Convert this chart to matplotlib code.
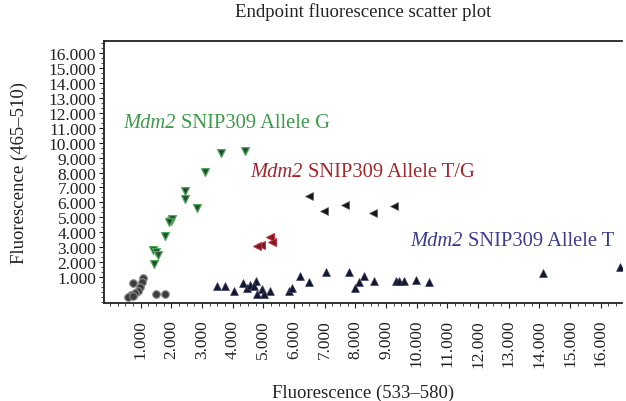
import matplotlib
matplotlib.use("Agg")
import matplotlib.pyplot as plt
from matplotlib.ticker import MultipleLocator, FuncFormatter
from matplotlib.transforms import offset_copy

plt.rcParams['font.family'] = ['Liberation Serif', 'DejaVu Serif']

# no template / background cluster near origin
ntc_x = [760, 1090, 1030, 980, 920, 820, 675, 600, 760, 1500, 1800]
ntc_y = [600, 920, 650, 310, 90, -70, -200, -350, -250, -130, -130]

# allele G (homozygous)
g_x = [3630, 4390, 3090, 2450, 2450, 2850, 1980, 2030, 1920, 1790, 1415, 1490, 1570, 1440]
g_y = [9300, 9420, 8020, 6790, 6230, 5600, 4780, 4890, 4670, 3770, 2830, 2660, 2480, 1880]

# allele T/G (heterozygous)
tg_x = [6500, 6980, 7660, 8560, 9270]
tg_y = [6410, 5450, 5850, 5290, 5780]
tg_red_x = [4930, 4800, 5220, 5270]
tg_red_y = [3170, 3100, 3660, 3330]

# allele T (homozygous)
t_x = [3500, 3740, 4040, 4350, 4470, 4570, 4770, 4710, 4790, 4950, 5020, 5210,
       5850, 5930, 6190, 6500, 7040, 7790, 8280, 8120, 7980, 8600,
       9310, 9430, 9590, 9980, 10400, 14110, 16630]
t_y = [420, 420, 90, 600, 250, 470, 760, 420, -130, 200, -130, 90,
       90, 250, 1090, 650, 1360, 1360, 1090, 650, 250, 760,
       760, 760, 760, 800, 660, 1270, 1650]

ticks = list(range(1000, 17000, 1000))

# cluster labels: (x, y, text, colour)
labels = [(420, 11350, 'SNIP309 Allele G', '#3d9a4a'),
          (4580, 8050, 'SNIP309 Allele T/G', '#a3262b'),
          (9780, 3450, 'SNIP309 Allele T', '#3b3b8f')]

fig = plt.figure(figsize=(6.26, 4.02), dpi=100)
ax = fig.add_axes([104 / 626, 1 - 304 / 402, 518 / 626, 262 / 402])

ax.scatter(ntc_x, ntc_y, s=30, marker='o', facecolor='#3c3c3c', edgecolor='#8a8a8a', linewidth=0.8, zorder=3)
ax.scatter(g_x, g_y, s=32, marker='v', facecolor='#24492e', edgecolor='#4fa85c', linewidth=0.9, zorder=3)
ax.scatter(tg_x, tg_y, s=32, marker='<', facecolor='#161616', edgecolor='#555555', linewidth=0.5, zorder=3)
ax.scatter(tg_red_x, tg_red_y, s=32, marker='<', facecolor='#7a1a22', edgecolor='#c0303a', linewidth=0.8, zorder=3)
ax.scatter(t_x, t_y, s=32, marker='^', facecolor='#14172a', edgecolor='#3a3f6a', linewidth=0.5, zorder=3)

ax.set_xlim(-196, 16694)
ax.set_ylim(-737, 16812)
ax.set_xticks(ticks)
ax.set_yticks(ticks)
ax.xaxis.set_minor_locator(MultipleLocator(250))
ax.yaxis.set_minor_locator(MultipleLocator(333.33))
fmt = FuncFormatter(lambda v, p: '{:,.0f}'.format(v).replace(',', '.'))
ax.xaxis.set_major_formatter(fmt)
ax.yaxis.set_major_formatter(fmt)
ax.tick_params(axis='both', which='major', direction='out', length=3.5, width=0.8,
               labelsize=12.5, colors='#222222', pad=2)
ax.tick_params(axis='both', which='minor', direction='out', length=2, width=0.6, color='#222222')
ax.tick_params(axis='x', labelrotation=90, pad=8)
for s in ['left', 'bottom', 'top']:
    ax.spines[s].set_color('#222222')
    ax.spines[s].set_linewidth(1.3)
ax.spines['right'].set_visible(False)

ax.set_title('Endpoint fluorescence scatter plot', fontsize=13.5, color='#222222', pad=18)
ax.set_xlabel('Fluorescence (533–580)', fontsize=13.5, color='#222222', labelpad=12)
ax.set_ylabel('Fluorescence (465–510)', fontsize=13.5, color='#222222', labelpad=15)

# italic gene name followed by upright rest of the label
fig.canvas.draw()
renderer = fig.canvas.get_renderer()
for x, y, txt, col in labels:
    t1 = ax.text(x, y, 'Mdm2', style='italic', color=col, fontsize=14.8, va='center')
    w = t1.get_window_extent(renderer).width * 72 / fig.dpi
    tr = offset_copy(ax.transData, fig=fig, x=w + 4, y=0, units='points')
    ax.text(x, y, txt, color=col, fontsize=14.8, va='center', transform=tr)

fig.savefig('out.png', dpi=100)
